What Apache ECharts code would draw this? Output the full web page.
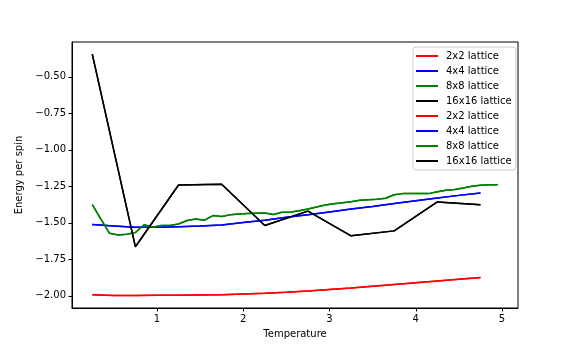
<!DOCTYPE html>
<html>
<head>
<meta charset="utf-8">
<script src="https://cdn.jsdelivr.net/npm/echarts@6/dist/echarts.min.js"></script>
<style>html,body{margin:0;padding:0;background:#fff;}#c{width:576px;height:352px;}</style>
</head>
<body>
<div id="c"></div>
<script>
// Temperatures
const tempCoarse = [0.25,0.5,0.75,1.0,1.25,1.5,1.75,2.0,2.25,2.5,2.75,3.0,3.25,3.5,3.75,4.0,4.25,4.5,4.75];
const tempFine = [0.25,0.35,0.45,0.55,0.65,0.75,0.85,0.95,1.05,1.15,1.25,1.35,1.45,1.55,1.65,1.75,1.85,
  1.95,2.05,2.15,2.25,2.35,2.45,2.55,2.65,2.75,2.85,2.95,3.05,3.15,3.25,3.35,3.45,3.55,3.65,3.75,3.85,3.95,
  4.05,4.15,4.25,4.35,4.45,4.55,4.65,4.75,4.85,4.95];
const tempSparse = [0.25,0.75,1.25,1.75,2.25,2.75,3.25,3.75,4.25,4.75];

// Energy per spin
const e2x2 = [-1.992,-1.998,-1.998,-1.996,-1.996,-1.994,-1.992,-1.987,-1.982,-1.975,-1.966,-1.956,-1.946,-1.934,-1.922,-1.910,-1.898,-1.886,-1.874];
const e4x4 = [-1.511,-1.521,-1.531,-1.530,-1.526,-1.522,-1.515,-1.498,-1.482,-1.462,-1.445,-1.425,-1.405,-1.388,-1.368,-1.348,-1.330,-1.312,-1.295];
const e8x8 = [-1.375,-1.475,-1.572,-1.583,-1.578,-1.566,-1.513,-1.530,-1.518,-1.518,-1.508,-1.484,-1.474,-1.482,-1.450,-1.456,-1.444,
  -1.440,-1.436,-1.434,-1.432,-1.443,-1.428,-1.425,-1.417,-1.405,-1.392,-1.378,-1.370,-1.362,-1.355,-1.346,-1.342,-1.338,-1.332,-1.308,-1.300,-1.299,
  -1.300,-1.300,-1.287,-1.277,-1.272,-1.262,-1.250,-1.243,-1.240,-1.240];
const e16x16 = [-0.345,-1.664,-1.241,-1.236,-1.518,-1.420,-1.589,-1.555,-1.357,-1.377];

const names = ['2x2 lattice','4x4 lattice','8x8 lattice','16x16 lattice'];
const xTicks = [1,2,3,4,5];
const yTicks = [-2.0,-1.75,-1.5,-1.25,-1.0,-0.75,-0.5];

const colors = ['#ff0000','#0000ff','#008000','#000000'];
const sets = [[tempCoarse,e2x2],[tempCoarse,e4x4],[tempFine,e8x8],[tempSparse,e16x16]];
const zip = (xs, ys) => xs.map((x,i)=>[x, ys[i]]);

const series = [];
const legendNames = [];
for (let rep = 0; rep < 2; rep++) {
  for (let k = 0; k < 4; k++) {
    const nm = names[k] + (rep ? ' ' : '');
    legendNames.push(nm);
    series.push({
      name: nm, type: 'line', symbol: 'none', showSymbol: false,
      data: zip(sets[k][0], sets[k][1]),
      lineStyle: {color: colors[k], width: 1.5},
      itemStyle: {color: colors[k]},
      emphasis: {disabled: true}
    });
  }
}

const font = 'DejaVu Sans';
const chart = echarts.init(document.getElementById('c'), null, {renderer: 'canvas'});
chart.setOption({
  animation: false,
  backgroundColor: '#fff',
  grid: {left: 72, right: 58, top: 42, bottom: 44, show: true, borderColor: '#000', borderWidth: 1, backgroundColor: 'transparent'},
  legend: {
    data: legendNames, orient: 'vertical', left: 413, top: 47,
    icon: 'rect', itemWidth: 22, itemHeight: 2, itemGap: 3,
    padding: [3, 1, 3, 3],
    backgroundColor: 'rgba(255,255,255,0.8)', borderColor: '#cccccc', borderWidth: 1, borderRadius: 3,
    textStyle: {fontFamily: font, fontSize: 10, color: '#000', lineHeight: 12, padding: [0,0,0,3]},
    selectedMode: false
  },
  xAxis: {
    type: 'value', min: 0.015, max: 5.185,
    name: 'Temperature', nameLocation: 'middle', nameGap: 21,
    nameTextStyle: {fontFamily: font, fontSize: 10, color: '#000'},
    axisLine: {show: true, onZero: false, lineStyle: {color: '#000', width: 1}},
    axisTick: {show: true, length: 3.5, lineStyle: {color: '#000'}, customValues: xTicks},
    axisLabel: {fontFamily: font, fontSize: 10, color: '#000', margin: 6, customValues: xTicks, formatter: v => String(Math.round(v))},
    splitLine: {show: false}
  },
  yAxis: {
    type: 'value', min: -2.083, max: -0.262,
    name: 'Energy per spin', nameLocation: 'middle', nameGap: 37, nameRotate: 90,
    nameTextStyle: {fontFamily: font, fontSize: 10, color: '#000'},
    axisLine: {show: true, onZero: false, lineStyle: {color: '#000', width: 1}},
    axisTick: {show: true, length: 3.5, lineStyle: {color: '#000'}, customValues: yTicks},
    axisLabel: {fontFamily: font, fontSize: 10, color: '#000', margin: 6, customValues: yTicks,
      formatter: v => v.toFixed(2).replace('-', '\u2212')},
    splitLine: {show: false}
  },
  series: series
});
</script>
</body>
</html>
